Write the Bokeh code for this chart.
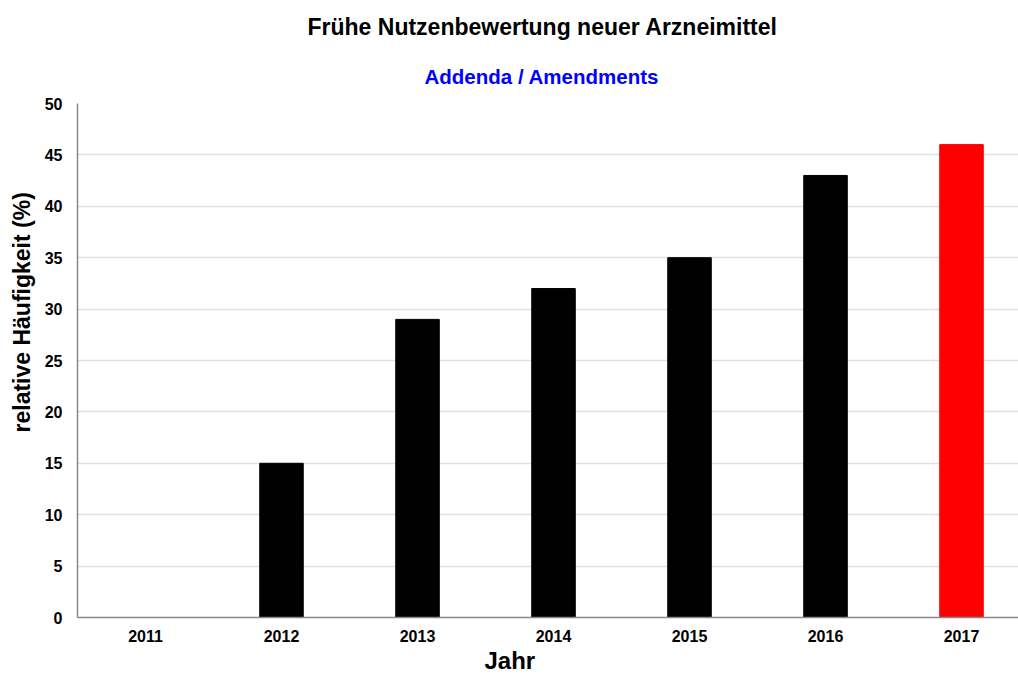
from bokeh.plotting import figure
from bokeh.models import Range1d, FixedTicker, Title, ColumnDataSource
from bokeh.embed import file_html
from bokeh.resources import INLINE

years = ["2011", "2012", "2013", "2014", "2015", "2016", "2017"]
values = [0, 15, 29, 32, 35, 43, 46]
colors = ["black", "black", "black", "black", "black", "black", "red"]
y_ticks = [0, 5, 10, 15, 20, 25, 30, 35, 40, 45, 50]

FONT = "Liberation Sans"

src = ColumnDataSource(dict(x=list(range(len(years))), top=values, color=colors))

# frame: 941 px wide (136 px per category), 514 px high
p = figure(width=1018, height=677, output_backend="svg", toolbar_location=None,
           x_range=Range1d(-0.5, 6.419), y_range=Range1d(0, 50),
           min_border_left=77, min_border_right=0, min_border_top=103, min_border_bottom=60)
p.outline_line_color = None
p.background_fill_color = "white"

p.vbar(x="x", top="top", width=0.32, color="color", source=src)

sub = Title(text="Addenda / Amendments", align="left", offset=347, standoff=31,
            text_font=FONT, text_font_size="20.5px", text_font_style="bold", text_color="#0000ff")
main = Title(text="Frühe Nutzenbewertung neuer Arzneimittel", align="left", offset=230, standoff=16,
             text_font=FONT, text_font_size="23px", text_font_style="bold", text_color="black")
p.add_layout(sub, "above")
p.add_layout(main, "above")

ylab = Title(text="relative Häufigkeit (%)", align="left", offset=185, standoff=13,
             text_font=FONT, text_font_size="23px", text_font_style="bold", text_color="black")
p.add_layout(ylab, "left")

xlab = Title(text="Jahr", align="left", offset=407, standoff=0,
             text_font=FONT, text_font_size="24px", text_font_style="bold", text_color="black")

p.xaxis.ticker = FixedTicker(ticks=list(range(len(years))))
p.xaxis.major_label_overrides = {i: y for i, y in enumerate(years)}
p.yaxis.ticker = FixedTicker(ticks=y_ticks)

for ax in (p.xaxis, p.yaxis):
    ax.axis_line_color = "#888888"
    ax.axis_line_width = 1.5
    ax.major_tick_line_color = None
    ax.minor_tick_line_color = None
    ax.major_tick_out = 0
    ax.major_tick_in = 0
    ax.minor_tick_out = 0
    ax.minor_tick_in = 0
    ax.major_label_text_font = FONT
    ax.major_label_text_font_style = "bold"
    ax.major_label_text_font_size = "16px"
    ax.major_label_text_color = "black"

p.xaxis.major_label_standoff = 12
p.yaxis.major_label_standoff = 15

p.add_layout(xlab, "below")

p.xgrid.grid_line_color = None
p.ygrid.grid_line_color = "#e0e0e0"
p.ygrid.grid_line_width = 1.5

open("out.html", "w").write(file_html(p, INLINE))
